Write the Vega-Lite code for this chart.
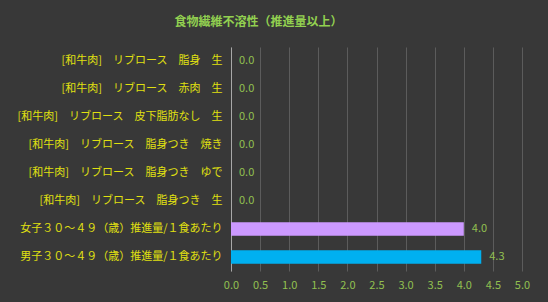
{
  "$schema": "https://vega.github.io/schema/vega-lite/v6.json",
  "width": 291,
  "height": 224,
  "autosize": {"type": "none"},
  "padding": {"left": 231, "top": 47, "right": 26, "bottom": 31},
  "background": "#383838",
  "title": {
    "text": "食物繊維不溶性（推進量以上）",
    "color": "#92D050",
    "font": "Noto Sans CJK JP",
    "fontSize": 12,
    "fontWeight": "bold",
    "anchor": "middle",
    "frame": "group",
    "dx": -118,
    "offset": 18
  },
  "data": {
    "values": [
      {"name": "[和牛肉]　リブロース　脂身　生", "value": 0.0, "kind": "food"},
      {"name": "[和牛肉]　リブロース　赤肉　生", "value": 0.0, "kind": "food"},
      {"name": "[和牛肉]　リブロース　皮下脂肪なし　生", "value": 0.0, "kind": "food"},
      {"name": "[和牛肉]　リブロース　脂身つき　焼き", "value": 0.0, "kind": "food"},
      {"name": "[和牛肉]　リブロース　脂身つき　ゆで", "value": 0.0, "kind": "food"},
      {"name": "[和牛肉]　リブロース　脂身つき　生", "value": 0.0, "kind": "food"},
      {"name": "女子３０～４９（歳）推進量/１食あたり", "value": 4.0, "kind": "female"},
      {"name": "男子３０～４９（歳）推進量/１食あたり", "value": 4.3, "kind": "male"}
    ]
  },
  "encoding": {
    "y": {
      "field": "name",
      "type": "nominal",
      "sort": null,
      "scale": {"paddingInner": 0.52, "paddingOuter": 0.26},
      "axis": {
        "title": null,
        "labelColor": "#E0E010",
        "labelFont": "Noto Sans CJK JP",
        "labelFontSize": 11,
        "labelLimit": 300,
        "labelPadding": 9,
        "ticks": false,
        "domainColor": "#A8A8A8",
        "domainWidth": 1,
        "grid": false
      }
    },
    "x": {
      "field": "value",
      "type": "quantitative",
      "scale": {"domain": [0, 5]},
      "axis": {
        "title": null,
        "values": [0, 0.5, 1, 1.5, 2, 2.5, 3, 3.5, 4, 4.5, 5],
        "format": ".1f",
        "labelFlush": false,
        "labelColor": "#92C050",
        "labelFont": "Noto Sans CJK JP",
        "labelFontSize": 11,
        "labelPadding": 8,
        "ticks": false,
        "domain": false,
        "grid": true,
        "gridColor": "#5C5C5C",
        "gridWidth": 1
      }
    }
  },
  "layer": [
    {
      "mark": {"type": "bar"},
      "encoding": {
        "color": {
          "field": "kind",
          "type": "nominal",
          "scale": {"domain": ["food", "female", "male"], "range": ["#888888", "#CC99FF", "#00B0F0"]},
          "legend": null
        }
      }
    },
    {
      "mark": {"type": "text", "align": "left", "dx": 8, "font": "Noto Sans CJK JP", "fontSize": 11, "color": "#92C050"},
      "encoding": {
        "text": {"field": "value", "type": "quantitative", "format": ".1f"}
      }
    }
  ],
  "config": {"view": {"stroke": null}}
}
